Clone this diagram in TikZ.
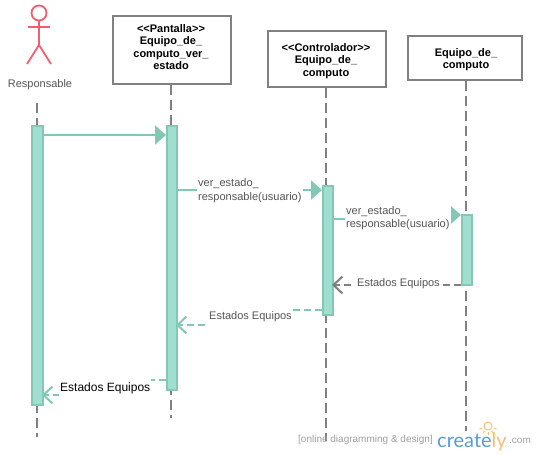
\documentclass[tikz,border=0pt]{standalone}
\usepackage{fontspec}
\setmainfont{Liberation Sans}
\newfontfamily\logofont{Lato}
\usetikzlibrary{arrows.meta,backgrounds,calc}
\definecolor{barfill}{HTML}{A0DFCF}
\definecolor{teal1}{HTML}{82C8B4}
\definecolor{gray1}{HTML}{808080}
\definecolor{txt}{HTML}{555555}
\definecolor{pinkline}{HTML}{EE6070}
\definecolor{logoblue}{HTML}{5B9BD5}
\definecolor{logoorange}{HTML}{F8BE78}
\tikzset{
  objbox/.style={draw=gray1,line width=2pt,fill=white,inner sep=0pt},
  objtxt/.style={inner sep=0pt,align=center,font=\fontsize{11}{12.2}\selectfont\bfseries,text=black},
  bar/.style={draw=teal1,line width=2pt,fill=barfill,inner sep=0pt,minimum width=10pt},
  lifeline/.style={draw=gray1,line width=2pt,dash pattern=on 10pt off 5pt},
  actorline/.style={draw=pinkline,line width=1.8pt},
  msg/.style={draw=teal1,line width=2pt,-{Triangle[length=11pt,width=19pt,fill=teal1]}},
  retn/.style={draw=teal1,line width=2pt,dash pattern=on 7pt off 4pt,shorten >=-2pt,-{Straight Barb[length=9pt,width=17pt,line width=2pt]}},
  retg/.style={retn,draw=gray1},
  lbl/.style={fill=white,inner xsep=1pt,inner ysep=1pt,align=left,text=txt,font=\fontsize{11}{13.5}\selectfont},
  logotxt/.style={inner sep=0pt,font=\logofont\fontsize{20}{20}\selectfont},
  wm/.style={inner sep=0pt,text=gray!75,font=\fontsize{10}{11}\selectfont}
}
\begin{document}
\begin{tikzpicture}[x=1pt,y=-1pt]
\useasboundingbox (0,0) rectangle (536,455);
% actor
\node[draw=pinkline,line width=1.8pt,circle,minimum size=15pt,inner sep=0pt] (head) at (39,13) {};
\coordinate (hip) at (39,45);
\coordinate (shL) at (28,27);
\coordinate (shR) at (50,27);
\coordinate (footL) at (27,64);
\coordinate (footR) at (51,64);
\draw[actorline] (head.south) -- (hip);
\draw[actorline] (shL) -- (shR);
\draw[actorline] (footL) -- (hip) -- (footR);
\node[inner sep=0pt,text=txt,font=\fontsize{11}{12}\selectfont] (resp) at (40,84.5) {Responsable};
% objects
\node[objbox,minimum width=118pt,minimum height=68pt] (o1) at (172,50) {};
\node[objbox,minimum width=118pt,minimum height=56pt] (o2) at (327,59) {};
\node[objbox,minimum width=114pt,minimum height=44pt] (o3) at (465,58) {};
\node[objtxt] (t1) at (171,47) {{<}{<}Pantalla{>}{>}\\Equipo\_de\_\\computo\_ver\_\\estado};
\node[objtxt] (t2) at (326,61) {{<}{<}Controlador{>}{>}\\Equipo\_de\_\\computo};
\node[objtxt] (t3) at (466,60) {Equipo\_de\_\\computo};
% activation bars
\node[bar,minimum width=11pt,minimum height=279pt] (a1) at (37.5,265.5) {};
\node[bar,minimum height=264pt] (a2) at (172,258) {};
\node[bar,minimum height=129pt] (a3) at (328,250.5) {};
\node[bar,minimum height=70pt] (a4) at (467,250) {};
% lifeline ends
\coordinate (s1) at (37,103);
\coordinate (e1) at (37,437);
\coordinate (e2) at (171,418);
\coordinate (e3) at (326,441);
\coordinate (e4) at (466,431);
\begin{scope}[on background layer]
\draw[lifeline] (s1) -- (e1);
\draw[lifeline] (o1.south -| e2) -- (e2);
\draw[lifeline] (o2.south -| e3) -- (e3);
\draw[lifeline] (o3.south -| e4) -- (e4);
\end{scope}
% message levels
\coordinate (y1) at (0,135);
\coordinate (y2) at (0,190);
\coordinate (y3a) at (0,219);
\coordinate (y3b) at (0,215);
\coordinate (y4) at (0,285);
\coordinate (y5a) at (0,310);
\coordinate (y5b) at (0,325);
\coordinate (y6a) at (0,380);
\coordinate (y6b) at (0,395);
% connectors
\draw[msg] (a1.east |- y1) -- (a2.west |- y1);
\draw[msg] (a2.east |- y2) -- (a3.west |- y2);
\draw[msg] (a3.east |- y3a) -- (398,219) -- (398,215) -- (a4.west |- y3b);
\draw[retg] (a4.west |- y4) -- (a3.east |- y4);
\draw[retn] (a3.west |- y5a) -- (250,310) -- (250,325) -- (a2.east |- y5b);
\draw[retn] (a2.west |- y6a) -- (105,380) -- (105,395) -- (a1.east |- y6b);
% labels
\node[lbl,anchor=west] (l2) at (197,190.5) {ver\_estado\_\\responsable(usuario)};
\node[lbl,anchor=west] (l3) at (345,218) {ver\_estado\_\\responsable(usuario)};
\node[lbl,anchor=west,inner xsep=3pt] (l4) at (354,284) {Estados Equipos};
\node[lbl,anchor=west,inner ysep=9pt] (l5) at (208,317) {Estados Equipos};
\node[lbl,anchor=west,inner ysep=9pt,text=black,font=\fontsize{12}{14}\selectfont] (l6) at (59,388) {Estados Equipos};
% watermark
\node[wm,anchor=west] (w1) at (298,440) {[online diagramming \& design]};
\node[logotxt,anchor=base west,text=logoblue] (w2) at (437,447) {create\textcolor{logoorange}{ly}};
\node[wm,anchor=west] (w3) at (509,441) {.com};
% bulb
\node[draw=logoorange,line width=1pt,circle,minimum size=8pt,inner sep=0pt,fill=white] (bulb) at (488,426) {};
\foreach \a in {-160,-125,-90,-55,-20}
  \draw[logoorange,line width=1pt] ($(bulb)+({\a}:6pt)$) -- ($(bulb)+({\a}:9pt)$);
\end{tikzpicture}
\end{document}
